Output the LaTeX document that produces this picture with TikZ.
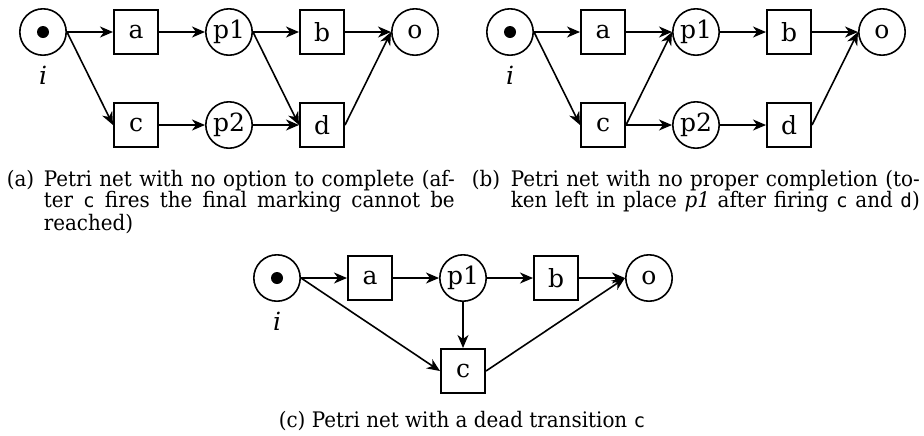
\documentclass[tikz,border=0pt]{standalone}
\usepackage{fontspec}
\setmainfont{DejaVu Serif}
\setmonofont[Scale=0.9]{DejaVu Sans Mono}
\newfontfamily\captfont[FakeStretch=0.93]{DejaVu Serif}
\usetikzlibrary{arrows.meta}

\begin{document}
\begin{tikzpicture}[node distance={46.5pt}, thick, >={Stealth[length=6.5pt,width=5.5pt,inset=2pt]},
  place/.style = {draw, circle, minimum size=23.2pt, inner sep=0pt, font=\fontsize{12.5}{14}\selectfont},
  trans/.style = {draw, rectangle, minimum size=22.2pt, inner sep=0pt, font=\fontsize{12.5}{14}\selectfont},
  lbl/.style = {font=\fontsize{12.5}{14}\selectfont\itshape},
  capt/.style = {inner sep=0pt, font=\captfont\fontsize{10.7}{10.5}\selectfont}]
\useasboundingbox (0pt,0pt) rectangle (462pt,-217.5pt);
% (a)
\node[place] (ia) at (21.5pt,-16pt) {};
\fill (ia) circle (3pt);
\node[lbl] (lia) [below of=ia, node distance=21.5pt] {i};
\node[trans] (aa) [right of=ia] {a};
\node[place] (p1a) [right of=aa] {p1};
\node[trans] (ba) [right of=p1a] {b};
\node[place] (oa) [right of=ba] {o};
\node[trans] (ca) [below of=aa] {c};
\node[place] (p2a) [right of=ca] {p2};
\node[trans] (da) [right of=p2a] {d};
\draw[->] (ia) -- (aa);
\draw[->] (ia.east) -- (ca.west);
\draw[->] (aa) -- (p1a);
\draw[->] (p1a) -- (ba);
\draw[->] (p1a.east) -- (da.west);
\draw[->] (ba) -- (oa);
\draw[->] (ca) -- (p2a);
\draw[->] (p2a) -- (da);
\draw[->] (da.east) -- (oa.west);
\node[capt, anchor=base west, text width=224pt, align=left] (capa) at (3pt,-93pt)
  {\spaceskip=0.3em plus 1fil minus 0.08em
   \noindent\hbox to 224pt{\makebox[18.5pt][l]{(a)}Petri net with no option to complete (af-}\par
   \noindent\hspace*{18.5pt}\hbox to 205.5pt{ter \texttt{c} fires the final marking cannot be}\par
   \noindent\hspace*{18.5pt}reached)\par};
% (b)
\node[place] (ib) at (255pt,-16pt) {};
\fill (ib) circle (3pt);
\node[lbl] (lib) [below of=ib, node distance=21.5pt] {i};
\node[trans] (ab) [right of=ib] {a};
\node[place] (p1b) [right of=ab] {p1};
\node[trans] (bb) [right of=p1b] {b};
\node[place] (ob) [right of=bb] {o};
\node[trans] (cb) [below of=ab] {c};
\node[place] (p2b) [right of=cb] {p2};
\node[trans] (db) [right of=p2b] {d};
\draw[->] (ib) -- (ab);
\draw[->] (ib.east) -- (cb.west);
\draw[->] (ab) -- (p1b);
\draw[->] (cb.east) -- (p1b.west);
\draw[->] (cb) -- (p2b);
\draw[->] (p1b) -- (bb);
\draw[->] (p2b) -- (db);
\draw[->] (bb) -- (ob);
\draw[->] (db.east) -- (ob.west);
\node[capt, anchor=base west, text width=224pt, align=left] (capb) at (235.5pt,-93pt)
  {\spaceskip=0.3em plus 1fil minus 0.08em
   \noindent\hbox to 224pt{\makebox[19.5pt][l]{(b)}Petri net with no proper completion (to-}\par
   \noindent\hspace*{19.5pt}\hbox to 204.5pt{ken left in place \textit{p1} after firing \texttt{c} and \texttt{d})}\par};
% (c)
\node[place] (ic) at (138.5pt,-139pt) {};
\fill (ic) circle (3pt);
\node[lbl] (lic) [below of=ic, node distance=21.5pt] {i};
\node[trans] (ac) [right of=ic] {a};
\node[place] (p1c) [right of=ac] {p1};
\node[trans] (bc) [right of=p1c] {b};
\node[place] (oc) [right of=bc] {o};
\node[trans] (cc) [below of=p1c] {c};
\draw[->] (ic) -- (ac);
\draw[->] (ic.east) -- (cc.west);
\draw[->] (ac) -- (p1c);
\draw[->] (p1c) -- (bc);
\draw[->] (p1c) -- (cc);
\draw[->] (bc) -- (oc);
\draw[->] (cc.east) -- (oc.west);
\node[capt, anchor=base] (capc) at (231pt,-213.5pt) {(c) Petri net with a dead transition \texttt{c}};
\end{tikzpicture}
\end{document}
